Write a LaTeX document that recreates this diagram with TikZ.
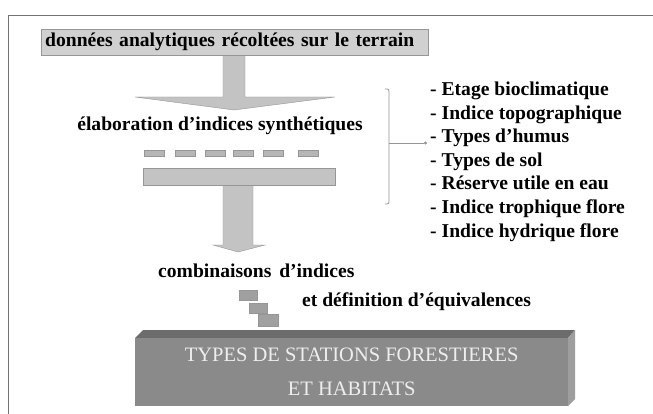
\documentclass[tikz,border=0pt]{standalone}
\usepackage{fontspec}
\setmainfont{Liberation Serif}
\usepackage{tikz}
\usetikzlibrary{arrows.meta, positioning, calc}
\definecolor{framecolor}{RGB}{115, 115, 115}
\definecolor{datacolor}{RGB}{208, 208, 208}
\definecolor{arrowcolor}{RGB}{195, 195, 195}
\definecolor{edgecolor}{RGB}{150, 150, 150}
\definecolor{dashcolor}{RGB}{182, 182, 182}
\definecolor{equivcolor}{RGB}{160, 160, 160}
\definecolor{stationfront}{RGB}{138, 138, 138}
\definecolor{stationtop}{RGB}{108, 108, 108}
\definecolor{stationside}{RGB}{158, 158, 158}
\definecolor{stationtext}{RGB}{238, 238, 238}

\begin{document}
\begin{tikzpicture}[x=1pt, y=-1pt,
        bigtext/.style={font=\fontsize{19.6}{22}\selectfont\bfseries, inner sep=0pt},
        dashbox/.style={draw=edgecolor, fill=dashcolor, minimum width=20pt, minimum height=6pt, inner sep=0pt},
        equivbox/.style={draw=edgecolor, fill=equivcolor, minimum width=18pt, minimum height=10pt, inner sep=0pt}]
        \useasboundingbox[fill=white] (0,0) rectangle (653,414);

        % Frame
        \draw[framecolor, line width=0.9pt] (8,414) -- (8,15) -- (653,15);

        % Field data
        \draw[edgecolor, fill=arrowcolor] (223,54) -- (245,54) -- (245,97) -- (335,97) -- (234,110) -- (135,97) -- (223,97) -- cycle;
        \node[draw=edgecolor, fill=datacolor, anchor=north west, minimum height=25pt, text width=379pt, align=left, inner sep=4pt, font=\fontsize{19.6}{22}\selectfont\bfseries] (terrain) at (41,29) {données analytiques récoltées sur le terrain};

        % Synthetic indices
        \node[bigtext, anchor=base] (synthese) at (220,131) {élaboration d'indices synthétiques};
        \foreach \x [count=\i] in {154,185,215,243,273,308}
            \node[dashbox] (tiret\i) at (\x,153.5) {};
        \draw[edgecolor, fill=arrowcolor] (223,185) -- (253,185) -- (253,245) -- (265,245) -- (238,252) -- (213,245) -- (223,245) -- cycle;
        \node[draw=edgecolor, fill=arrowcolor, minimum width=192pt, minimum height=17pt, inner sep=0pt] (barre) at (239,176.5) {};

        % Criteria
        \foreach \txt [count=\i] in {Etage bioclimatique, Indice topographique, Types d'humus, Types de sol, Réserve utile en eau, Indice trophique flore, Indice hydrique flore}
            \node[bigtext, anchor=base west] (critere\i) at (430,72.5+23.5*\i) {- \txt};
        \draw[edgecolor, line width=0.8pt] (385,89) .. controls (389,89) .. (389,94) -- (389,199) .. controls (389,204) .. (385,204);
        \coordinate (accolade) at (critere3.base west -| 389,0);
        \draw[edgecolor, line width=0.8pt, -{Circle[length=3pt]}] (accolade) -- ([xshift=-3pt]critere3.base west);

        % Combinations
        \node[bigtext, anchor=base west] (combinaisons) at (158,277) {combinaisons\hspace{0.4em}d'indices};
        \node[equivbox] (equiv1) at (248,295) {};
        \node[equivbox] (equiv2) at (258,308) {};
        \node[equivbox, minimum width=20pt, minimum height=12pt] (equiv3) at (268,320) {};
        \node[bigtext, anchor=base west] (equivalences) at (302,306) {et définition d'équivalences};

        % Station types
        \fill[stationtop] (135,338) -- (143,330) -- (575,330) -- (568,338) -- cycle;
        \fill[stationside] (568,338) -- (575,330) -- (575,399) -- (568,406) -- cycle;
        \node[fill=stationfront, anchor=north west, minimum width=433pt, minimum height=68pt, inner sep=0pt, align=center, text=stationtext, font=\fontsize{20.5}{34}\selectfont] (stations) at (135,338) {TYPES DE STATIONS FORESTIERES\\ET HABITATS};
\end{tikzpicture}
\end{document}
